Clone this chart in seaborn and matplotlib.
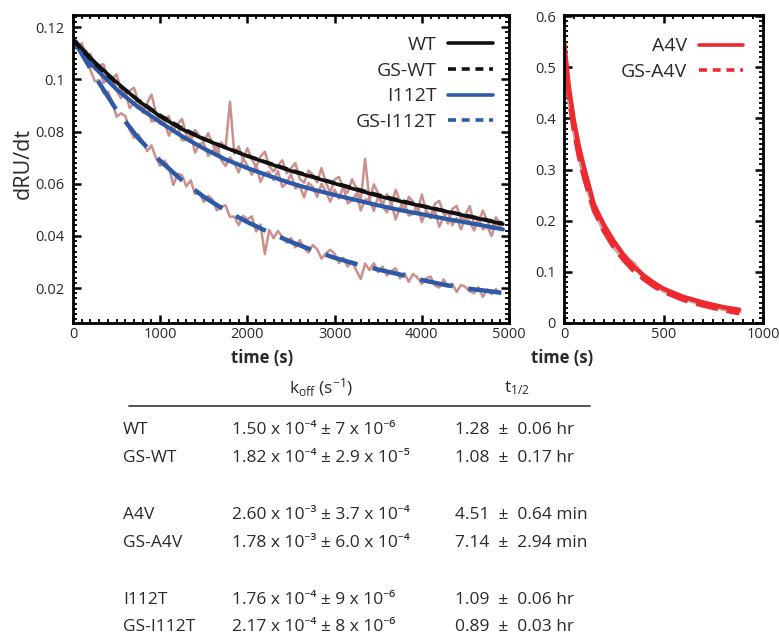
import numpy as np
import pandas as pd
import seaborn as sns
import matplotlib
matplotlib.use("Agg")
import matplotlib.pyplot as plt
from matplotlib.ticker import MultipleLocator, FuncFormatter
from matplotlib.lines import Line2D

# ---------------- data ----------------
time_fit = [0, 250, 500, 750, 1000, 1250, 1500, 1750, 2000, 2250, 2500, 2750,
            3000, 3250, 3500, 3750, 4000, 4250, 4500, 4750, 4930]
wt_fit = [0.1155, 0.1066, 0.0989, 0.0918, 0.0858, 0.0809, 0.0771, 0.0738, 0.0706,
          0.0677, 0.0649, 0.0625, 0.0601, 0.0577, 0.0553, 0.0533, 0.0514, 0.0496,
          0.0477, 0.0459, 0.0445]
gswt_fit = [0.1150, 0.1060, 0.0985, 0.0920, 0.0862, 0.0813, 0.0773, 0.0739, 0.0707,
            0.0679, 0.0652, 0.0627, 0.0603, 0.0580, 0.0557, 0.0536, 0.0516, 0.0497,
            0.0479, 0.0461, 0.0448]
i112t_fit = [0.1155, 0.1045, 0.0962, 0.0893, 0.0836, 0.0782, 0.0735, 0.0693, 0.0660,
             0.0630, 0.0602, 0.0578, 0.0557, 0.0537, 0.0517, 0.0499, 0.0483, 0.0467,
             0.0452, 0.0437, 0.0425]
gsi112t_fit = [0.1155, 0.1013, 0.0882, 0.0774, 0.0688, 0.0613, 0.0550, 0.0497, 0.0453,
               0.0413, 0.0377, 0.0345, 0.0316, 0.0292, 0.0271, 0.0252, 0.0231, 0.0213,
               0.0199, 0.0189, 0.0181]

time_data = list(range(0, 4901, 50))
wt_data = [0.1160, 0.1127, 0.1138, 0.1095, 0.1098, 0.1046, 0.1055, 0.1058, 0.1008, 0.1003,
           0.1019, 0.0960, 0.0936, 0.0957, 0.0968, 0.0913, 0.0886, 0.0909, 0.0942, 0.0875,
           0.0828, 0.0848, 0.0858, 0.0803, 0.0828, 0.0849, 0.0786, 0.0764, 0.0806, 0.0784,
           0.0761, 0.0794, 0.0753, 0.0716, 0.0759, 0.0738, 0.0915, 0.0715, 0.0743, 0.0692,
           0.0736, 0.0695, 0.0664, 0.0704, 0.0723, 0.0667, 0.0647, 0.0671, 0.0690, 0.0640,
           0.0659, 0.0679, 0.0619, 0.0604, 0.0650, 0.0635, 0.0605, 0.0660, 0.0605, 0.0566,
           0.0616, 0.0626, 0.0581, 0.0566, 0.0617, 0.0582, 0.0537, 0.0695, 0.0537, 0.0598,
           0.0563, 0.0519, 0.0560, 0.0521, 0.0577, 0.0533, 0.0494, 0.0550, 0.0531, 0.0493,
           0.0559, 0.0495, 0.0477, 0.0523, 0.0534, 0.0486, 0.0447, 0.0503, 0.0515, 0.0461,
           0.0482, 0.0514, 0.0445, 0.0451, 0.0497, 0.0459, 0.0425, 0.0471, 0.0442]
i112t_data = [0.1150, 0.1145, 0.1097, 0.1111, 0.1050, 0.1045, 0.1048, 0.0986, 0.1004, 0.1008,
              0.0957, 0.0928, 0.0949, 0.0890, 0.0911, 0.0918, 0.0872, 0.0905, 0.0839, 0.0842,
              0.0856, 0.0835, 0.0784, 0.0819, 0.0823, 0.0767, 0.0768, 0.0788, 0.0719, 0.0754,
              0.0755, 0.0707, 0.0723, 0.0745, 0.0691, 0.0668, 0.0701, 0.0680, 0.0643, 0.0697,
              0.0670, 0.0634, 0.0673, 0.0607, 0.0641, 0.0645, 0.0614, 0.0649, 0.0588, 0.0603,
              0.0637, 0.0582, 0.0592, 0.0548, 0.0603, 0.0588, 0.0549, 0.0600, 0.0570, 0.0531,
              0.0577, 0.0543, 0.0589, 0.0525, 0.0536, 0.0562, 0.0498, 0.0539, 0.0540, 0.0496,
              0.0552, 0.0513, 0.0490, 0.0526, 0.0463, 0.0509, 0.0526, 0.0478, 0.0484, 0.0521,
              0.0453, 0.0495, 0.0467, 0.0498, 0.0435, 0.0472, 0.0494, 0.0441, 0.0468, 0.0425,
              0.0472, 0.0454, 0.0421, 0.0473, 0.0425, 0.0437, 0.0399, 0.0451, 0.0433]
gsi112t_data = [0.1160, 0.1117, 0.1113, 0.1095, 0.1036, 0.0993, 0.0997, 0.0946, 0.0954, 0.0913,
                0.0857, 0.0870, 0.0859, 0.0807, 0.0776, 0.0789, 0.0762, 0.0725, 0.0747, 0.0700,
                0.0668, 0.0688, 0.0663, 0.0595, 0.0638, 0.0633, 0.0590, 0.0613, 0.0560, 0.0568,
                0.0530, 0.0554, 0.0539, 0.0498, 0.0513, 0.0517, 0.0473, 0.0474, 0.0441, 0.0477,
                0.0463, 0.0475, 0.0417, 0.0444, 0.0330, 0.0423, 0.0391, 0.0419, 0.0396, 0.0374,
                0.0392, 0.0356, 0.0384, 0.0353, 0.0336, 0.0365, 0.0349, 0.0313, 0.0333, 0.0347,
                0.0331, 0.0296, 0.0316, 0.0282, 0.0302, 0.0267, 0.0235, 0.0294, 0.0269, 0.0295,
                0.0261, 0.0282, 0.0248, 0.0265, 0.0276, 0.0237, 0.0258, 0.0224, 0.0254, 0.0240,
                0.0216, 0.0237, 0.0244, 0.0210, 0.0202, 0.0233, 0.0205, 0.0217, 0.0185, 0.0212,
                0.0204, 0.0187, 0.0180, 0.0203, 0.0166, 0.0194, 0.0177, 0.0196, 0.0179]

time_a4v = [0, 25, 50, 75, 100, 150, 200, 250, 300, 350, 400, 450, 500, 600, 700, 800, 880]
a4v_fit = [0.550, 0.460, 0.395, 0.345, 0.305, 0.232, 0.192, 0.160, 0.133, 0.110, 0.093,
           0.079, 0.067, 0.051, 0.040, 0.031, 0.026]
gsa4v_fit = [0.540, 0.440, 0.375, 0.325, 0.285, 0.220, 0.180, 0.148, 0.123, 0.102, 0.086,
             0.072, 0.061, 0.045, 0.034, 0.025, 0.019]
a4v_data = [0.545, 0.440, 0.380, 0.330, 0.290, 0.225, 0.182, 0.150, 0.128, 0.116, 0.090,
            0.075, 0.064, 0.048, 0.037, 0.028, 0.022]

legend_left = ["WT", "GS-WT", "I112T", "GS-I112T"]
legend_right = ["A4V", "GS-A4V"]

table_names = ["WT", "GS-WT", "A4V", "GS-A4V", "I112T", "GS-I112T"]
table_koff = ["1.50 x 10⁻⁴ ± 7 x 10⁻⁶",
              "1.82 x 10⁻⁴ ± 2.9 x 10⁻⁵",
              "2.60 x 10⁻³ ± 3.7 x 10⁻⁴",
              "1.78 x 10⁻³ ± 6.0 x 10⁻⁴",
              "1.76 x 10⁻⁴ ± 9 x 10⁻⁶",
              "2.17 x 10⁻⁴ ± 8 x 10⁻⁶"]
table_thalf = ["1.28  ±  0.06 hr", "1.08  ±  0.17 hr", "4.51  ±  0.64 min",
               "7.14  ±  2.94 min", "1.09  ±  0.06 hr", "0.89  ±  0.03 hr"]

# ---------------- style ----------------
sns.set_style("ticks")
FONT = "Open Sans"
plt.rcParams["font.family"] = [FONT, "Noto Sans", "DejaVu Sans"]
plt.rcParams["mathtext.fontset"] = "custom"
plt.rcParams["mathtext.rm"] = FONT
plt.rcParams["mathtext.it"] = FONT + ":italic"
plt.rcParams["mathtext.bf"] = FONT + ":bold"

BLACK = "#111111"
BLUE = "#2c5aa8"
ROSY = "#c9908c"
RED = "#ec2a30"
GREYROSE = "#c9a7a7"
TXT = "#2a2a2a"

fig = plt.figure(figsize=(7.79, 6.43), dpi=100)
W, H = 779, 643


def axes_px(x0, y0, x1, y1):
    return fig.add_axes([x0 / W, 1 - y1 / H, (x1 - x0) / W, (y1 - y0) / H])


ax1 = axes_px(73, 15, 509, 323)
ax2 = axes_px(564, 15, 763, 323)

df_data = pd.DataFrame({"t": time_data, "wt": wt_data, "i112t": i112t_data,
                        "gsi112t": gsi112t_data})
df_fit = pd.DataFrame({"t": time_fit, "wt": wt_fit, "gswt": gswt_fit,
                       "i112t": i112t_fit, "gsi112t": gsi112t_fit})

for col in ["wt", "i112t", "gsi112t"]:
    sns.lineplot(data=df_data, x="t", y=col, ax=ax1, color=ROSY, lw=1.8,
                 estimator=None, sort=False)

sns.lineplot(data=df_fit, x="t", y="i112t", ax=ax1, color=BLUE, lw=3.0, estimator=None)
sns.lineplot(data=df_fit, x="t", y="gsi112t", ax=ax1, color=BLUE, lw=3.2, estimator=None)
ax1.lines[-1].set_dashes([7.5, 3.5])
sns.lineplot(data=df_fit, x="t", y="wt", ax=ax1, color=BLACK, lw=2.6, estimator=None)
sns.lineplot(data=df_fit, x="t", y="gswt", ax=ax1, color=BLACK, lw=2.6, estimator=None)
ax1.lines[-1].set_dashes([3, 1.5])

df_a = pd.DataFrame({"t": time_a4v, "a4v": a4v_fit, "gsa4v": gsa4v_fit, "data": a4v_data})
sns.lineplot(data=df_a, x="t", y="data", ax=ax2, color=GREYROSE, lw=3.5, estimator=None)
sns.lineplot(data=df_a, x="t", y="a4v", ax=ax2, color=RED, lw=3.2, estimator=None)
sns.lineplot(data=df_a, x="t", y="gsa4v", ax=ax2, color=RED, lw=3.2, estimator=None)
ax2.lines[-1].set_dashes([5, 2])

ax1.set_ylabel("dRU/dt", fontsize=15.5, color=TXT)
ax1.yaxis.set_label_coords(-0.089, 0.518)
ax2.set_ylabel("")
for ax in (ax1, ax2):
    ax.set_xlabel("time (s)", fontsize=12, fontweight="bold", color=TXT)
ax1.xaxis.set_label_coords(0.433, -0.085)
ax2.xaxis.set_label_coords(-0.01, -0.085)

h1 = [Line2D([], [], color=BLACK, lw=2.6),
      Line2D([], [], color=BLACK, lw=2.6, dashes=[2.2, 1.6]),
      Line2D([], [], color=BLUE, lw=2.6),
      Line2D([], [], color=BLUE, lw=2.6, dashes=[2.2, 1.6])]
ax1.legend(h1, legend_left, loc="upper right", frameon=False, markerfirst=False,
           fontsize=14, handlelength=2.3, handletextpad=0.6, labelspacing=0.4,
           bbox_to_anchor=(0.99, 0.97), borderaxespad=0.2, labelcolor=TXT)
h2 = [Line2D([], [], color=RED, lw=2.6),
      Line2D([], [], color=RED, lw=2.6, dashes=[2.2, 1.6])]
ax2.legend(h2, legend_right, loc="upper right", frameon=False, markerfirst=False,
           fontsize=14, handlelength=2.3, handletextpad=0.6, labelspacing=0.4,
           bbox_to_anchor=(0.96, 0.965), borderaxespad=0.2, labelcolor=TXT)

# ---------------- table ----------------
def ftxt(x, y, s, **kw):
    fig.text(x / W, 1 - y / H, s, color=TXT, va="center", **kw)


ftxt(321, 388, r"k$_{\mathrm{off}}$ (s$^{-1}$)", fontsize=12.5, ha="center")
ftxt(517, 388, r"t$_{1/2}$", fontsize=12.5, ha="center")
fig.add_artist(Line2D([129 / W, 590 / W], [1 - 406 / H, 1 - 406 / H],
                      color="#444444", lw=1.3))
row_y = [430, 458, 515, 543, 600, 627]
for name, k, th, y in zip(table_names, table_koff, table_thalf, row_y):
    ftxt(123, y, name, fontsize=12.5, ha="left")
    ftxt(232, y, k, fontsize=12.5, ha="left")
    ftxt(455, y, th, fontsize=12.5, ha="left")

# ---------------- axes limits, ticks, spines (applied last) ----------------
ax1.set_xlim(0, 5000)
ax1.set_ylim(0.0066, 0.1247)
ax2.set_xlim(0, 1000)
ax2.set_ylim(0, 0.602)

fmt = FuncFormatter(lambda v, p: f"{v:g}")
ax1.xaxis.set_major_locator(MultipleLocator(1000))
ax1.xaxis.set_minor_locator(MultipleLocator(100))
ax1.yaxis.set_major_locator(MultipleLocator(0.02))
ax1.yaxis.set_minor_locator(MultipleLocator(0.002))
ax2.xaxis.set_major_locator(MultipleLocator(500))
ax2.xaxis.set_minor_locator(MultipleLocator(50))
ax2.yaxis.set_major_locator(MultipleLocator(0.1))
ax2.yaxis.set_minor_locator(MultipleLocator(0.01))

for ax in (ax1, ax2):
    ax.xaxis.set_major_formatter(fmt)
    ax.yaxis.set_major_formatter(fmt)
    for s in ax.spines.values():
        s.set_visible(True)
        s.set_linewidth(2.0)
        s.set_color("black")
        s.set_zorder(5)
    ax.tick_params(which="both", direction="in", top=True, right=True,
                   bottom=True, left=True, color="black")
    ax.tick_params(which="major", length=6, width=1.8, labelsize=10.5,
                   labelcolor=TXT)
    ax.tick_params(which="minor", length=3, width=1.3)
    ax.tick_params(axis="y", which="major", pad=6)
    ax.tick_params(axis="x", which="major", pad=3)

fig.savefig("out.png", dpi=100)
